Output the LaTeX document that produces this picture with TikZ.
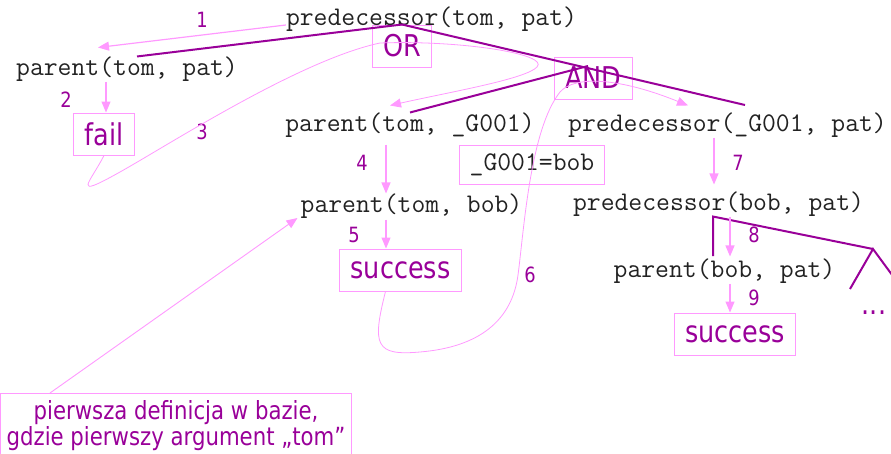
\documentclass[tikz,border=0pt]{standalone}
\usepackage{fontspec}
\setmainfont{DejaVu Sans}[FakeStretch=0.85]
\usetikzlibrary{arrows.meta,calc}
\definecolor{plum}{HTML}{990099}
\definecolor{rose}{HTML}{FF99FF}
\definecolor{ink}{HTML}{222222}

\begin{document}
\begin{tikzpicture}[x=1pt, y=-1pt,
				term/.style={rectangle, inner xsep=0pt, inner ysep=0pt, text=ink, font=\ttfamily\fontsize{26.9}{30}\selectfont},
				result/.style={rectangle, draw=rose, line width=1pt, inner xsep=11pt, minimum height=42pt, text=plum, font=\fontsize{30}{34}\selectfont},
				binding/.style={term, draw=rose, line width=1pt, inner xsep=10pt, minimum height=39pt},
				stepnum/.style={text=plum, inner sep=0pt, font=\fontsize{21}{24}\selectfont},
				more/.style={text=plum, inner sep=0pt, font=\fontsize{30}{34}\selectfont},
				note/.style={rectangle, draw=rose, line width=1pt, align=center, minimum width=351pt, minimum height=64pt, text=plum, font=\fontsize{25}{24}\selectfont},
				treeline/.style={draw=plum, line width=2pt},
				arc/.style={draw=rose, line width=1.2pt, -{Triangle[length=11pt,width=9pt]}},
				backtrack/.style={draw=rose, line width=0.8pt, -{Triangle[length=11pt,width=9pt]}}
			]
			\useasboundingbox (0,0) rectangle (891,453);
			\node[term] (goal) at (431.5,19) {predecessor(tom, pat)};
			\node[term] (parTP) at (127,69) {parent(tom, pat)};
			\node[result] (fail) at (104,134) {fail};
			\node[result] (or) at (402,46) {OR};
			\node[result] (and) at (593.5,78) {AND};
			\node[term] (parTG) at (410,125) {parent(tom, \_G001)};
			\node[term] (predGP) at (727.5,125) {predecessor(\_G001, pat)};
			\node[binding] (bind) at (532,164.5) {\_G001=bob};
			\node[term] (parTB) at (411.5,206) {parent(tom, bob)};
			\node[term] (predBP) at (718.5,204) {predecessor(bob, pat)};
			\node[result] (succA) at (400.5,270) {success};
			\node[term] (parBP) at (724.5,271) {parent(bob, pat)};
			\node[result] (succB) at (735,334) {success};
			\node[more, anchor=base] (dots) at (874,314) {...};
			\node[note, anchor=north] (hint) at (176,393) {pierwsza definicja w bazie,\\gdzie pierwszy argument „tom”};
			\node[stepnum] (n1) at (202,20) {1};
			\node[stepnum] (n2) at (66,100) {2};
			\node[stepnum] (n3) at (202,132) {3};
			\node[stepnum] (n4) at (362,163) {4};
			\node[stepnum] (n5) at (354,235) {5};
			\node[stepnum] (n6) at (530,275) {6};
			\node[stepnum] (n7) at (738,163) {7};
			\node[stepnum] (n8) at (754,235) {8};
			\node[stepnum] (n9) at (754,298) {9};
			\coordinate (orEnd) at (745,105);
			\coordinate (andTop) at (588,66);
			\coordinate (bpDown) at (713,256);
			\coordinate (fork) at (873,249);
			\coordinate (forkL) at (850,289);
			\coordinate (forkR) at (898,283);
			\draw[treeline] ([xshift=10pt]parTP.north) -- (or.north) -- (orEnd);
			\draw[treeline] (parTG.north) -- (andTop);
			\draw[treeline] (bpDown) -- ([xshift=-5.5pt]predBP.south) -- (fork);
			\draw[treeline] (forkL) -- (fork) -- (forkR);
			\begin{scope}
			\draw[arc] ([yshift=-6pt]goal.west) -- ([xshift=-29pt,yshift=9pt]parTP.north);
			\draw[arc] ([xshift=2pt]parTP.south -| fail.north) -- ([xshift=2pt]fail.north);
			\draw[arc] ([xshift=-24pt,yshift=-7pt]parTG.south) -- ([xshift=-25.5pt]parTB.north);
			\draw[arc] ([xshift=-25.5pt,yshift=-1pt]parTB.south) -- ([xshift=-14.5pt]succA.north);
			\draw[arc] ([xshift=-13.5pt]predGP.south) -- ([xshift=-4.5pt,yshift=7pt]predBP.north);
			\draw[arc] ([xshift=11.5pt]predBP.south) -- ([xshift=5.5pt,yshift=2pt]parBP.north);
			\draw[arc] ([xshift=5.5pt]parBP.south) -- ([xshift=-5pt]succB.north);
			\draw[arc, line width=0.9pt] ([xshift=-126pt]hint.north) -- ([xshift=-3pt,yshift=-12pt]parTB.west);
			\draw[backtrack] (fail.south) .. controls (90,183) and (70,200) .. (120,172)
				.. controls (170,144) and (300,60) .. (380,43)
				.. controls (460,40) and (550,54) .. (537,67)
				.. controls (526,79) and (450,92) .. ([xshift=-20pt,yshift=7pt]parTG.north);
			\draw[backtrack] ([xshift=-15pt]succA.south) .. controls (372,345) and (375,356) .. (420,352)
				.. controls (480,347) and (512,320) .. (518,275)
				.. controls (524,230) and (530,130) .. (560,92)
				.. controls (575,75) and (620,78) .. ([xshift=-39.5pt,yshift=7pt]predGP.north);
			\end{scope}
			\end{tikzpicture}
\end{document}
